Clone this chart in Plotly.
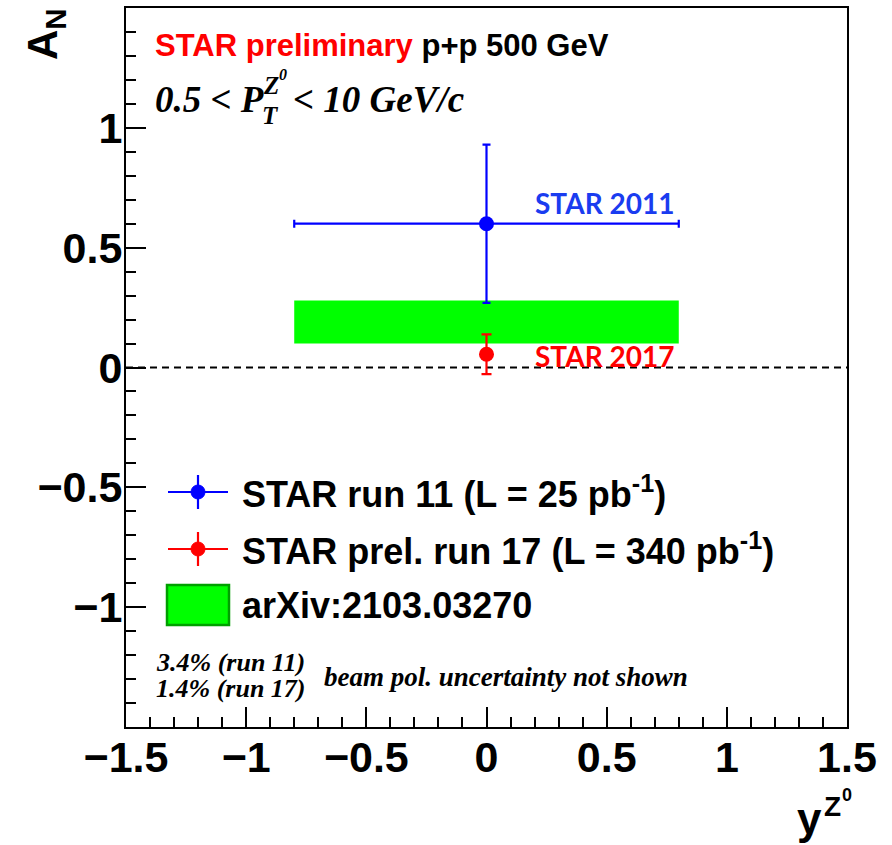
import plotly.graph_objects as go

# ---------------- data ----------------
star11_x = [0.0]
star11_y = [0.60]
star11_yerr = [0.33]
star11_xerr = [0.80]

star17_x = [0.0]
star17_y = [0.055]
star17_yerr = [0.083]

theory_x = [-0.8, 0.8]
theory_lo = [0.10, 0.10]
theory_hi = [0.28, 0.28]

ref_y = 0.0
x_range = [-1.5, 1.5]
y_range = [-1.5, 1.5]

x_tickvals = [-1.5, -1.0, -0.5, 0.0, 0.5, 1.0, 1.5]
x_ticktext = ["\u22121.5", "\u22121", "\u22120.5", "0", "0.5", "1", "1.5"]
y_tickvals = [-1.0, -0.5, 0.0, 0.5, 1.0]
y_ticktext = ["\u22121", "\u22120.5", "0", "0.5", "1"]

legend_labels = [
    "STAR run 11 (L = 25 pb<sup>-1</sup>)",
    "STAR prel. run 17 (L = 340 pb<sup>-1</sup>)",
    "arXiv:2103.03270",
]

# ---------------- layout helpers (pixel -> paper) ----------------
W, H = 892, 845
L, R, T, B = 126, 45, 8, 118
PW, PH = W - L - R, H - T - B


def X(px):
    return (px - L) / PW


def Y(py):
    return (H - B - py) / PH


SANS = "Liberation Sans"
SERIF = "Liberation Serif"
BLUE = "#0000ff"
RED = "#ff0000"
GREEN = "#00ff00"

fig = go.Figure()

# theory band
fig.add_trace(go.Scatter(
    x=theory_x + theory_x[::-1],
    y=theory_hi + theory_lo[::-1],
    fill="toself", fillcolor=GREEN, mode="lines",
    line=dict(width=0, color=GREEN), hoverinfo="skip", showlegend=False))

# reference dashed line
fig.add_trace(go.Scatter(
    x=x_range, y=[ref_y, ref_y], mode="lines",
    line=dict(color="black", width=2, dash="7px,5px"),
    hoverinfo="skip", showlegend=False))

# STAR 2011
fig.add_trace(go.Scatter(
    x=star11_x, y=star11_y, mode="markers",
    marker=dict(color=BLUE, size=15),
    error_y=dict(type="data", array=star11_yerr, color=BLUE, thickness=2.2, width=4),
    error_x=dict(type="data", array=star11_xerr, color=BLUE, thickness=2.2, width=4),
    showlegend=False))

# STAR 2017
fig.add_trace(go.Scatter(
    x=star17_x, y=star17_y, mode="markers",
    marker=dict(color=RED, size=15),
    error_y=dict(type="data", array=star17_yerr, color=RED, thickness=2.2, width=5),
    showlegend=False))

annotations = []
shapes = []

# point labels
annotations.append(dict(x=0.195, y=0.685, xref="x", yref="y", text="<b>STAR 2011</b>",
                        showarrow=False, xanchor="left", yanchor="middle",
                        font=dict(family="Lato", size=28, color="#1a3cf0")))
annotations.append(dict(x=0.195, y=0.05, xref="x", yref="y", text="<b>STAR 2017</b>",
                        showarrow=False, xanchor="left", yanchor="middle",
                        font=dict(family="Lato", size=28, color=RED)))

# header
annotations.append(dict(x=X(153), y=Y(46), xref="paper", yref="paper",
                        text="<span style='color:#ff0000'>STAR preliminary</span> p+p 500 GeV",
                        showarrow=False, xanchor="left", yanchor="middle",
                        font=dict(family=SANS, size=31, color="black", weight="bold")))

# pT range text
fpt = dict(family=SERIF, size=37, color="black", weight="bold", style="italic")
annotations.append(dict(x=X(153), y=Y(100), xref="paper", yref="paper",
                        text="0.5 &lt; P", showarrow=False, xanchor="left", yanchor="middle",
                        font=fpt))
annotations.append(dict(x=X(260), y=Y(115), xref="paper", yref="paper",
                        text="T", showarrow=False, xanchor="left", yanchor="middle",
                        font=dict(fpt, size=25)))
annotations.append(dict(x=X(261), y=Y(86), xref="paper", yref="paper",
                        text="Z", showarrow=False, xanchor="left", yanchor="middle",
                        font=dict(fpt, size=25)))
annotations.append(dict(x=X(277), y=Y(75), xref="paper", yref="paper",
                        text="0", showarrow=False, xanchor="left", yanchor="middle",
                        font=dict(fpt, size=16)))
annotations.append(dict(x=X(291), y=Y(100), xref="paper", yref="paper",
                        text="&lt; 10 GeV/c", showarrow=False, xanchor="left", yanchor="middle",
                        font=fpt))

# legend (manual)
leg_y = [492, 549]
leg_colors = [BLUE, RED]
for py, col in zip(leg_y, leg_colors):
    shapes.append(dict(type="line", xref="paper", yref="paper",
                       x0=X(168), x1=X(228), y0=Y(py), y1=Y(py),
                       line=dict(color=col, width=2.2)))
    shapes.append(dict(type="line", xref="paper", yref="paper",
                       x0=X(198), x1=X(198), y0=Y(py - 17), y1=Y(py + 17),
                       line=dict(color=col, width=2.2)))
    shapes.append(dict(type="circle", xref="paper", yref="paper",
                       x0=X(191), x1=X(205), y0=Y(py - 7), y1=Y(py + 7),
                       fillcolor=col, line=dict(color=col, width=1)))
shapes.append(dict(type="rect", xref="paper", yref="paper",
                   x0=X(167), x1=X(229), y0=Y(585), y1=Y(625),
                   fillcolor=GREEN, line=dict(color="#00a000", width=2.5)))
for py, lab in zip([492, 549, 605], legend_labels):
    annotations.append(dict(x=X(240), y=Y(py), xref="paper", yref="paper",
                            text=lab, showarrow=False, xanchor="left", yanchor="middle",
                            font=dict(family=SANS, size=36, color="black", weight="bold")))

# beam pol note
fnote = dict(family=SERIF, size=26, color="black", weight="bold", style="italic")
annotations.append(dict(x=X(154), y=Y(662), xref="paper", yref="paper",
                        text="3.4% (run 11)", showarrow=False, xanchor="left", yanchor="middle",
                        font=fnote))
annotations.append(dict(x=X(154), y=Y(688), xref="paper", yref="paper",
                        text="1.4% (run 17)", showarrow=False, xanchor="left", yanchor="middle",
                        font=fnote))
annotations.append(dict(x=X(322), y=Y(677), xref="paper", yref="paper",
                        text="beam pol. uncertainty not shown", showarrow=False,
                        xanchor="left", yanchor="middle", font=dict(fnote, size=27)))

# axis titles
annotations.append(dict(x=X(46), y=Y(34), xref="paper", yref="paper",
                        text="A<sub>N</sub>", textangle=-90, showarrow=False,
                        xanchor="center", yanchor="middle",
                        font=dict(family=SANS, size=42, color="black", weight="bold")))
annotations.append(dict(x=X(824), y=Y(818), xref="paper", yref="paper",
                        text="y", showarrow=False, xanchor="right", yanchor="middle",
                        font=dict(family=SANS, size=44, color="black", weight="bold")))
annotations.append(dict(x=X(822), y=Y(806), xref="paper", yref="paper",
                        text="Z", showarrow=False, xanchor="left", yanchor="middle",
                        font=dict(family=SANS, size=28, color="black", weight="bold")))
annotations.append(dict(x=X(840), y=Y(795), xref="paper", yref="paper",
                        text="0", showarrow=False, xanchor="left", yanchor="middle",
                        font=dict(family=SANS, size=18, color="black", weight="bold")))

axis_common = dict(
    showgrid=False, zeroline=False, automargin=False,
    showline=True, linecolor="black", linewidth=2, mirror=True,
    ticks="inside", ticklen=20, tickwidth=2, tickcolor="black",
    tickfont=dict(family=SANS, size=43, color="black", weight="bold"),
    minor=dict(ticks="inside", ticklen=10, tickwidth=1.5, tickcolor="black",
               dtick=0.1, tick0=0, showgrid=False),
)

fig.update_layout(
    width=W, height=H, autosize=False,
    margin=dict(l=L, r=R, t=T, b=B),
    paper_bgcolor="white", plot_bgcolor="white",
    xaxis=dict(axis_common, range=x_range, tickmode="array",
               tickvals=x_tickvals, ticktext=x_ticktext, ticklabelstandoff=-9),
    yaxis=dict(axis_common, range=y_range, tickmode="array",
               tickvals=y_tickvals, ticktext=y_ticktext, ticklabelstandoff=-7),
    annotations=annotations, shapes=shapes,
    showlegend=False,
)

fig.write_html("out.html", config={"displayModeBar": False},
               post_script="document.body.style.margin='0px';document.body.style.overflow='hidden';")
